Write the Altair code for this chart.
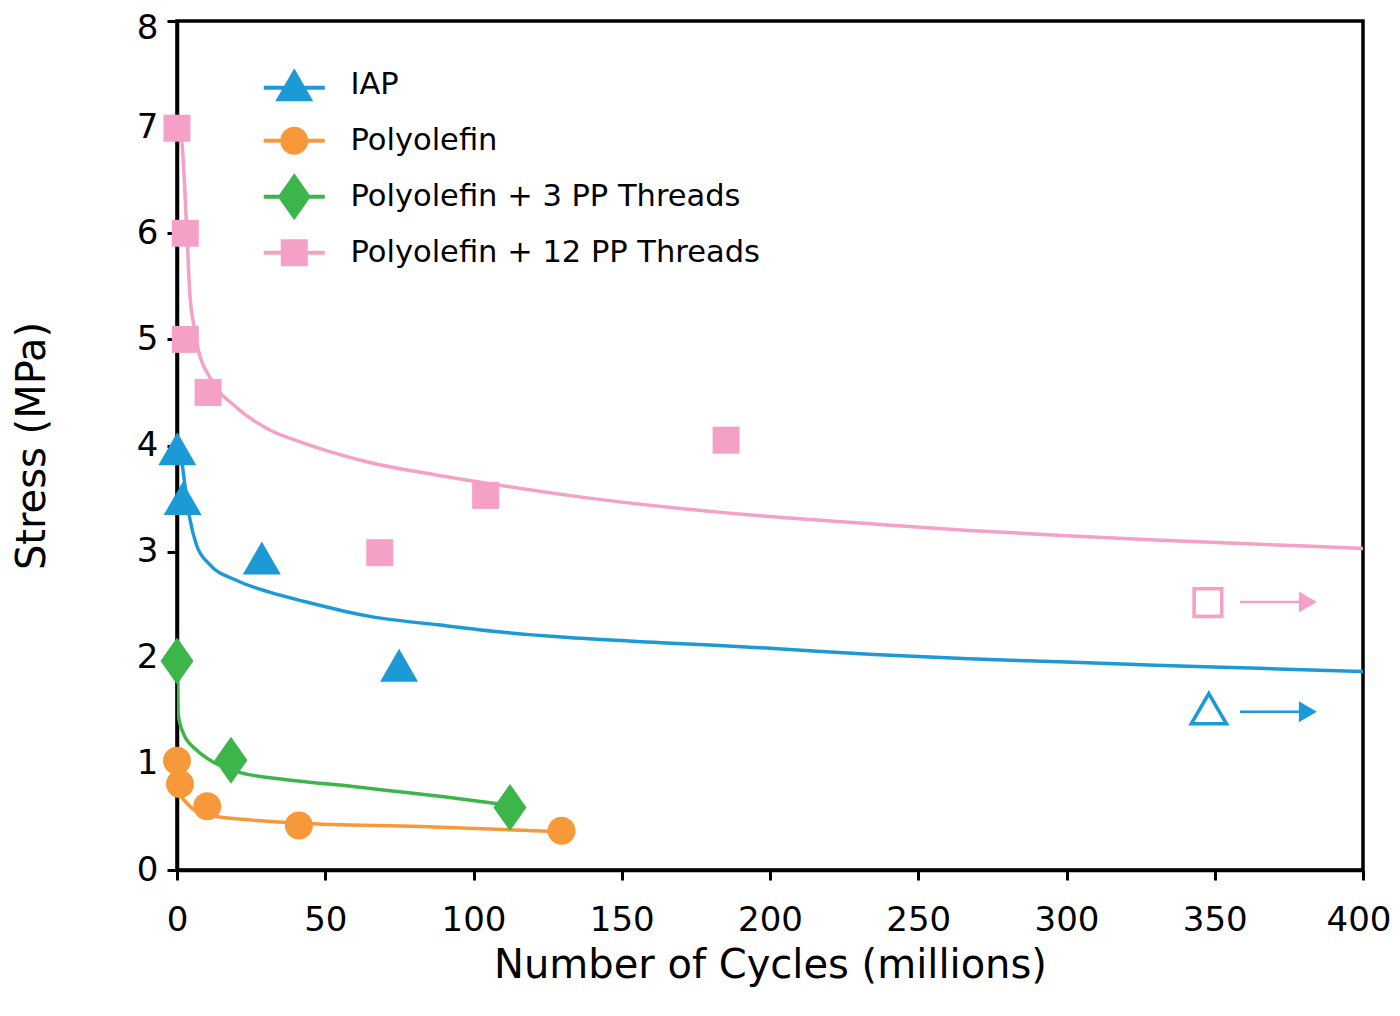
import altair as alt
import pandas as pd

FONT = "DejaVu Sans"

series_names = ["IAP", "Polyolefin", "Polyolefin + 3 PP Threads", "Polyolefin + 12 PP Threads"]
series_colors = ["#1b9ad6", "#f7993b", "#3cb54a", "#f5a0c6"]

# measured points
iap_x = [0.1, 1.9, 28.6, 74.9]
iap_y = [3.97, 3.50, 2.94, 1.93]
poly_x = [0.0, 1.0, 10.2, 41.1, 129.7]
poly_y = [1.03, 0.81, 0.60, 0.42, 0.37]
pp3_x = [0.0, 18.2, 112.3]
pp3_y = [1.97, 1.035, 0.59]
pp12_x = [0.0, 2.8, 2.8, 10.5, 68.4, 104.1, 185.2]
pp12_y = [6.99, 6.0, 5.0, 4.5, 2.99, 3.53, 4.05]

# trend curves
iap_fit_x = [0.3, 1.7, 2.6, 3.5, 4.4, 6.6, 11, 20, 31, 43, 65, 88, 110, 132, 165, 200, 235, 267, 300, 330, 365, 400]
iap_fit_y = [3.95, 3.83, 3.64, 3.45, 3.30, 3.06, 2.88, 2.73, 2.62, 2.53, 2.39, 2.31, 2.24, 2.19, 2.14, 2.09, 2.03, 1.99, 1.96, 1.93, 1.90, 1.87]
poly_fit_x = [0.0, 0.4, 3.3, 6.6, 10, 25.6, 41.5, 82, 130]
poly_fit_y = [0.95, 0.75, 0.63, 0.55, 0.52, 0.47, 0.44, 0.41, 0.36]
pp3_fit_x = [0.0, 0.4, 2.1, 6.6, 12, 20, 37, 55, 71, 90, 112]
pp3_fit_y = [1.97, 1.47, 1.29, 1.13, 1.02, 0.93, 0.85, 0.80, 0.75, 0.69, 0.61]
pp12_fit_x = [0.3, 1.6, 3.3, 4.4, 5.5, 7.2, 11.1, 20, 31, 43, 65, 88, 110, 132, 165, 200, 235, 267, 300, 330, 365, 400]
pp12_fit_y = [7.0, 6.87, 6.02, 5.40, 5.16, 4.90, 4.64, 4.36, 4.15, 4.02, 3.84, 3.72, 3.62, 3.53, 3.42, 3.33, 3.26, 3.20, 3.15, 3.11, 3.07, 3.03]

# run-out (no failure) markers with arrows
runout_series = ["Polyolefin + 12 PP Threads", "IAP"]
runout_x = [347.7, 348.0]
runout_y = [2.52, 1.52]
arrow_x_start = [358.5, 358.5]
arrow_x_end = [379.0, 379.0]
arrow_head_x = [381.4, 381.4]
arrow_y = [2.525, 1.49]

x_tick_values = [0, 50, 100, 150, 200, 250, 300, 350, 400]
y_tick_values = [0, 1, 2, 3, 4, 5, 6, 7, 8]

# ---- shapes (SVG paths, unit = 10 px at size 400) ----
TRI = "M0,-1.65L1.9,1.65L-1.9,1.65Z"
CIRC = "M-1.4,0A1.4,1.4 0 1,1 1.4,0A1.4,1.4 0 1,1 -1.4,0Z"
DIAM = "M0,-2.35L1.65,0L0,2.35L-1.65,0Z"
SQ = "M-1.35,-1.35L1.35,-1.35L1.35,1.35L-1.35,1.35Z"
OPEN_TRI = "M0,-1.5L1.75,1.5L-1.75,1.5Z"
OPEN_SQ = "M-1.38,-1.38L1.38,-1.38L1.38,1.38L-1.38,1.38Z"
HEAD = "M-0.9,-1.05L0.9,0L-0.9,1.05Z"

BAR = "M-3.05,-0.2L3.05,-0.2L3.05,0.2L-3.05,0.2Z"
PAD = "M0,-2.6L0,-2.6M0,2.6L0,2.6"
LEG_SHAPES = [
    "M-3.05,0.1L3.05,0.1L3.05,0.5L-3.05,0.5Z" + TRI + PAD,
    BAR + CIRC + PAD,
    BAR + DIAM + PAD,
    BAR + SQ + PAD,
]

# ---- data frames ----
def frame(xs, ys, name):
    return pd.DataFrame({"x": xs, "y": ys, "series": name})

pts = pd.concat([
    frame(iap_x, iap_y, series_names[0]),
    frame(poly_x, poly_y, series_names[1]),
    frame(pp3_x, pp3_y, series_names[2]),
    frame(pp12_x, pp12_y, series_names[3]),
], ignore_index=True)

fits = pd.concat([
    frame(iap_fit_x, iap_fit_y, series_names[0]),
    frame(poly_fit_x, poly_fit_y, series_names[1]),
    frame(pp3_fit_x, pp3_fit_y, series_names[2]),
    frame(pp12_fit_x, pp12_fit_y, series_names[3]),
], ignore_index=True)
fits["order"] = range(len(fits))

runout = pd.DataFrame({"series": runout_series, "x": runout_x, "y": runout_y})
arrows = pd.DataFrame({"series": runout_series, "x": arrow_x_start, "x2": arrow_x_end,
                       "hx": arrow_head_x, "y": arrow_y})

color_scale = alt.Scale(domain=series_names, range=series_colors)
shape_scale = alt.Scale(domain=series_names, range=[TRI, CIRC, DIAM, SQ])
x_scale = alt.Scale(domain=[0, 400], nice=False, zero=False)
y_scale = alt.Scale(domain=[0, 8], nice=False)

x_axis = alt.Axis(title="Number of Cycles (millions)", values=x_tick_values, labelFlush=False,
                  labelOverlap=False, tickSize=10, labelPadding=23, titlePadding=8,
                  labelFontSize=34, titleFontSize=40,
                  labelAlign={"condition": {"test": "datum.value === 400", "value": "right"}, "value": "center"},
                  labelOffset={"condition": {"test": "datum.value === 400", "value": 28}, "value": 0})
y_axis = alt.Axis(title="Stress (MPa)", values=y_tick_values, labelFlush=False,
                  labelOverlap=False, tickSize=10, labelPadding=9, titlePadding=84,
                  labelFontSize=34, titleFontSize=40,
                  labelOffset={"condition": {"test": "datum.value === 8", "value": 7}, "value": 0})

X = alt.X("x:Q", scale=x_scale, axis=x_axis)
Y = alt.Y("y:Q", scale=y_scale, axis=y_axis)

legend = alt.Legend(
    title=None, orient="none", legendX=102, legendY=48.5,
    symbolSize=400, symbolStrokeWidth=0, symbolOpacity=1,
    labelFont=FONT, labelFontSize=30.5, labelColor="black", labelOffset=41,
    rowPadding=3, padding=0, labelLimit=600,
)

lines = alt.Chart(fits).mark_line(strokeWidth=3.5, clip=True, interpolate="monotone").encode(
    x=X, y=Y,
    color=alt.Color("series:N", scale=color_scale, legend=None),
    detail="series:N",
    order="order:Q",
)

points = alt.Chart(pts).mark_point(filled=True, opacity=1, size=400, strokeWidth=0).encode(
    x=X, y=Y,
    color=alt.Color("series:N", scale=color_scale, legend=None),
    shape=alt.Shape("series:N", scale=shape_scale, legend=None),
)

# legend-only layer: no marks drawn, legend built from the explicit scale domains
legend_layer = alt.Chart(pts).mark_point(filled=True, opacity=1, size=400, strokeWidth=0).encode(
    x=X, y=Y,
    color=alt.Color("series:N", scale=color_scale, legend=legend),
    shape=alt.Shape("series:N", scale=alt.Scale(domain=series_names, range=LEG_SHAPES), legend=legend),
).transform_filter("false")

open_marks = alt.Chart(runout).mark_point(filled=False, opacity=1, size=400, strokeWidth=3.6).encode(
    x=X, y=Y,
    color=alt.Color("series:N", scale=color_scale, legend=None),
    shape=alt.Shape("series:N", scale=alt.Scale(domain=["Polyolefin + 12 PP Threads", "IAP"],
                                                range=[OPEN_SQ, OPEN_TRI]), legend=None),
)

arrow_lines = alt.Chart(arrows).mark_rule(strokeWidth=2.5).encode(
    x=X, x2="x2:Q", y=Y,
    color=alt.Color("series:N", scale=color_scale, legend=None),
)

arrow_heads = alt.Chart(arrows).mark_point(filled=True, opacity=1, size=400, strokeWidth=0, shape=HEAD).encode(
    x=alt.X("hx:Q", scale=x_scale, axis=x_axis), y=Y,
    color=alt.Color("series:N", scale=color_scale, legend=None),
)

chart = alt.layer(lines, arrow_lines, arrow_heads, open_marks, points, legend_layer).resolve_scale(
    shape="independent", color="independent"
).properties(
    width=1186, height=849,
    autosize=alt.AutoSizeParams(type="none"),
    padding={"left": 169, "top": 13, "right": 28, "bottom": 126},
).configure_view(
    stroke="black", strokeWidth=3.5
).configure_axis(
    domainColor="black", domainWidth=3.5, tickColor="black", tickWidth=3,
    labelColor="black", titleColor="black", labelFont=FONT, titleFont=FONT,
    titleFontWeight="normal", grid=False,
)

chart.save("out.html", embed_options={"renderer": "svg", "actions": False})
